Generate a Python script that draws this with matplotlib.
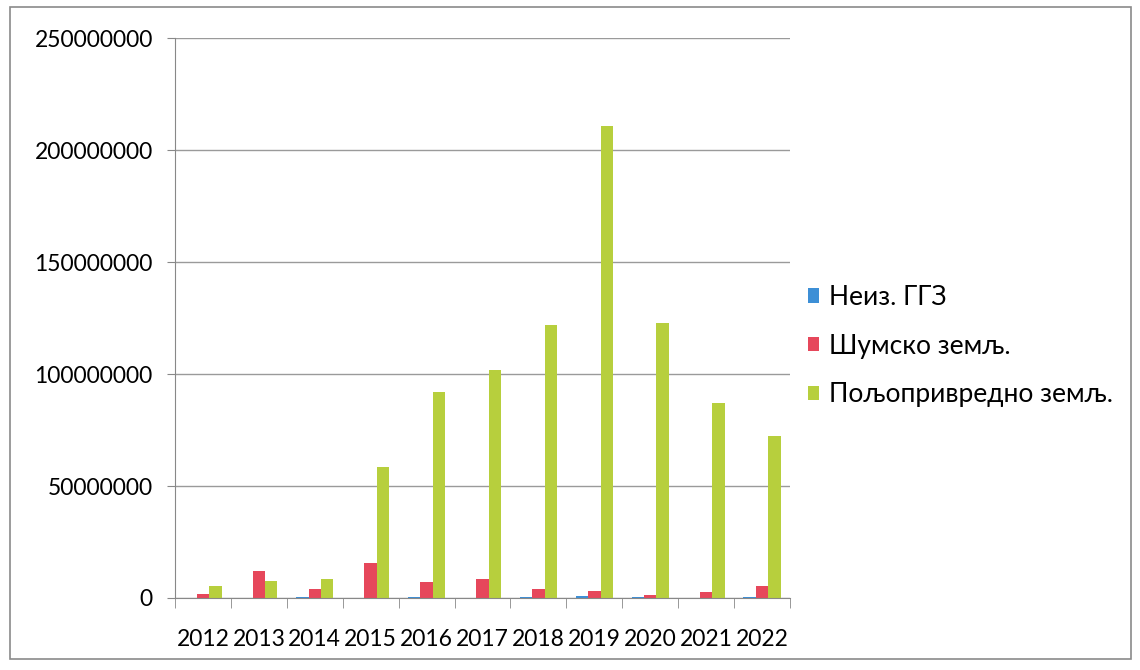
import matplotlib.pyplot as plt
import numpy as np
from matplotlib.patches import Rectangle

godine = ['2012', '2013', '2014', '2015', '2016', '2017', '2018', '2019', '2020', '2021', '2022']
neiz_ggz = [0.1e6, 0.1e6, 0.3e6, 0.2e6, 0.6e6, 0.2e6, 0.3e6, 0.8e6, 0.3e6, 0.2e6, 0.3e6]
sumsko = [1.8e6, 12.0e6, 3.8e6, 15.5e6, 7.0e6, 8.5e6, 4.0e6, 3.0e6, 1.5e6, 2.5e6, 5.5e6]
poljo = [5.4e6, 7.6e6, 8.5e6, 58.5e6, 92.0e6, 102.0e6, 122.0e6, 211.0e6, 123.0e6, 87.0e6, 72.5e6]

plt.rcParams['font.family'] = ['Lato', 'DejaVu Sans']

fig = plt.figure(figsize=(11.4, 6.7), dpi=100)
ax = fig.add_axes([0.1535, 0.1075, 0.5395, 0.8355])

x = np.arange(len(godine))
w = 0.222
ax.bar(x - w, neiz_ggz, w, color='#3d8fd6', label='Неиз. ГГЗ')
ax.bar(x, sumsko, w, color='#e6475b', label='Шумско земљ.')
ax.bar(x + w, poljo, w, color='#b7cf3d', label='Пољопривредно земљ.')

ax.set_xlim(-0.5, len(godine) - 0.5)
ax.set_ylim(0, 250000000)
ax.set_yticks(np.arange(0, 250000001, 50000000))
ax.set_yticklabels([str(v) for v in range(0, 250000001, 50000000)])
ax.yaxis.grid(True, color='#9a9a9a', linewidth=1)
ax.set_axisbelow(True)

ax.set_xticks(x)
ax.set_xticklabels(godine)
ax.set_xticks(np.arange(-0.5, len(godine), 1), minor=True)
ax.tick_params(axis='x', which='major', length=0, labelsize=16.5, pad=22)
ax.tick_params(axis='x', which='minor', length=7, color='#888888')
ax.tick_params(axis='y', length=6, color='#888888', labelsize=16.5, pad=10)

for s in ['top', 'right']:
    ax.spines[s].set_visible(False)
ax.spines['left'].set_color('#888888')
ax.spines['bottom'].set_color('#888888')

ax.legend(loc='center left', bbox_to_anchor=(0.99, 0.45), frameon=False,
          fontsize=19, handlelength=0.45, handleheight=0.45, handletextpad=0.35,
          labelspacing=0.9)

fig.patches.append(Rectangle((0.009, 0.016), 0.983, 0.973, transform=fig.transFigure,
                             fill=False, edgecolor='#8a8a8a', linewidth=1.2))

fig.savefig('out.png', dpi=100)
